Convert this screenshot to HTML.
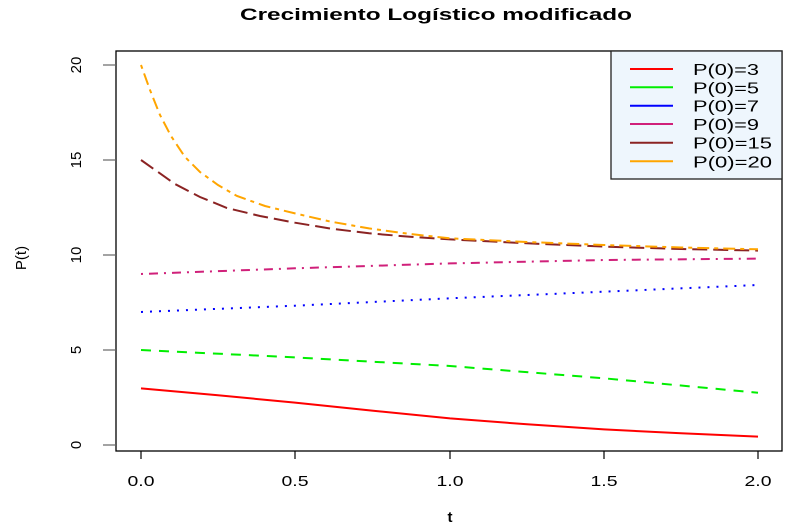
<!DOCTYPE html>
<html><head><meta charset="utf-8"><style>
html,body{margin:0;padding:0;background:#fff;}
svg{display:block;font-family:"Liberation Sans",sans-serif;}
</style></head><body>
<svg width="795" height="531" viewBox="0 0 795 531" xmlns="http://www.w3.org/2000/svg">
<rect width="795" height="531" fill="#fff"/>
<text x="240" y="20" font-size="17" font-weight="bold" textLength="392" lengthAdjust="spacingAndGlyphs">Crecimiento Logístico modificado</text>
<g fill="none" stroke-width="2">
<polyline stroke="#ff0000" points="141,388.4 218,395.3 295,402.6 372,410.6 450,418.4 527,424.3 604,429.4 681,433.3 758,436.6"/>
<polyline stroke="#00ee00" stroke-dasharray="10,8" points="141,350 295,357.4 450,366 604,378.3 758,392.8"/>
<polyline stroke="#0000ff" stroke-dasharray="2,7" points="141,312 295,305.7 450,298.3 604,291.7 758,285"/>
<polyline stroke="#d0207a" stroke-dasharray="2,6,9,6" points="141,274 295,268.3 450,263.4 604,260 758,258.6"/>
<polyline stroke="#8b2323" stroke-dasharray="15,6" points="141,160 158,172 175,184 200,197 227,208 260,216 295,222.7 330,228.5 369,233.3 410,236.8 450,239.4 527,243.3 604,246.6 681,249 758,250.6"/>
<polyline stroke="#ffa500" stroke-dasharray="4,5,12,5" points="141,65 150,90 160,115 171,136 185,157 200,172 218,185 237,196 265,206 295,213.4 330,221.5 369,228.4 410,234 450,238.3 527,242 604,245 681,247.5 758,249.3"/>
</g>
<rect x="116" y="51" width="666" height="400" fill="none" stroke="#000" stroke-width="1.3"/>
<g stroke="#000" stroke-width="1.2">
<line x1="141" y1="451" x2="141" y2="459"/><line x1="295" y1="451" x2="295" y2="459"/><line x1="450" y1="451" x2="450" y2="459"/><line x1="604" y1="451" x2="604" y2="459"/><line x1="758" y1="451" x2="758" y2="459"/>
</g>
<g stroke="#666" stroke-width="1.2">
<line x1="103" y1="65" x2="116" y2="65"/><line x1="103" y1="160" x2="116" y2="160"/><line x1="103" y1="255" x2="116" y2="255"/><line x1="103" y1="350" x2="116" y2="350"/><line x1="103" y1="445" x2="116" y2="445"/>
</g>
<g font-size="15">
<text x="127.5" y="486" textLength="27" lengthAdjust="spacingAndGlyphs">0.0</text>
<text x="281.5" y="486" textLength="27" lengthAdjust="spacingAndGlyphs">0.5</text>
<text x="436.5" y="486" textLength="27" lengthAdjust="spacingAndGlyphs">1.0</text>
<text x="590.5" y="486" textLength="27" lengthAdjust="spacingAndGlyphs">1.5</text>
<text x="744.5" y="486" textLength="27" lengthAdjust="spacingAndGlyphs">2.0</text>
</g>
<g font-size="15" text-anchor="middle">
<text transform="translate(81,445) rotate(-90)">0</text>
<text transform="translate(81,350) rotate(-90)">5</text>
<text transform="translate(81,255) rotate(-90)">10</text>
<text transform="translate(81,160) rotate(-90)">15</text>
<text transform="translate(81,65) rotate(-90)">20</text>
<text x="450" y="522" font-weight="bold">t</text>
<text transform="translate(26,258) rotate(-90)">P(t)</text>
</g>
<rect x="611" y="51" width="171" height="128" fill="#eef6fd" stroke="#222" stroke-width="1.3"/>
<g stroke-width="2">
<line x1="630" y1="69" x2="673" y2="69" stroke="#ff0000"/>
<line x1="630" y1="87.3" x2="673" y2="87.3" stroke="#00ee00"/>
<line x1="630" y1="105.7" x2="673" y2="105.7" stroke="#0000ff"/>
<line x1="630" y1="124" x2="673" y2="124" stroke="#d0207a"/>
<line x1="630" y1="142.7" x2="673" y2="142.7" stroke="#8b2323"/>
<line x1="630" y1="161.3" x2="673" y2="161.3" stroke="#ffa500"/>
</g>
<g font-size="16">
<text x="693" y="75" textLength="66" lengthAdjust="spacingAndGlyphs">P(0)=3</text>
<text x="693" y="93.3" textLength="66" lengthAdjust="spacingAndGlyphs">P(0)=5</text>
<text x="693" y="111.7" textLength="66" lengthAdjust="spacingAndGlyphs">P(0)=7</text>
<text x="693" y="130" textLength="66" lengthAdjust="spacingAndGlyphs">P(0)=9</text>
<text x="693" y="148.7" textLength="79" lengthAdjust="spacingAndGlyphs">P(0)=15</text>
<text x="693" y="167.3" textLength="79" lengthAdjust="spacingAndGlyphs">P(0)=20</text>
</g>
</svg>
</body></html>
